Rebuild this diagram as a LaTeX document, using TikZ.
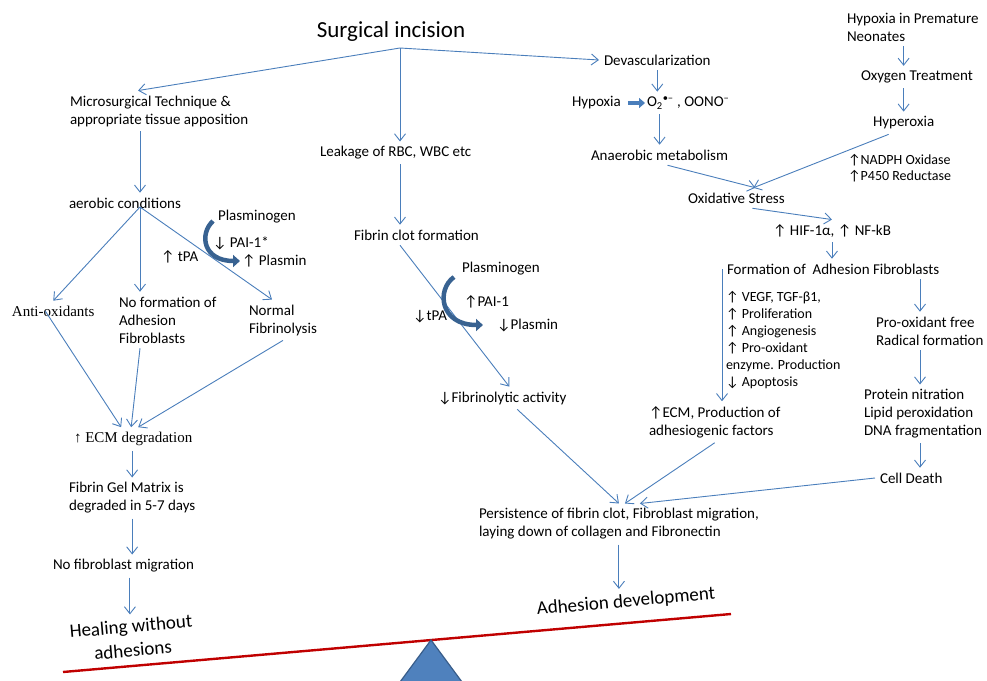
\documentclass[tikz,border=0pt]{standalone}
\usepackage{fontspec}
\setmainfont{Carlito}
\newfontfamily\timesfont{Liberation Serif}
\usetikzlibrary{arrows.meta}
\definecolor{lineblue}{RGB}{74,126,187}
\definecolor{fatblue}{RGB}{56,98,145}
\definecolor{scalered}{RGB}{192,0,0}
\definecolor{triblue}{RGB}{79,129,189}
\definecolor{triedge}{RGB}{56,93,138}
\begin{document}
\begin{tikzpicture}[x=1pt, y=-1pt,
  txt/.style={inner sep=0pt, outer sep=5pt, anchor=west, align=left, font=\fontsize{15}{18}\selectfont},
  sm/.style={txt, font=\fontsize{14}{17}\selectfont},
  ser/.style={txt, font=\timesfont\fontsize{15}{18}\selectfont},
  big/.style={inner sep=0pt, outer sep=5pt, rotate=5, align=center, font=\fontsize{19}{24}\selectfont},
  arr/.style={draw=lineblue, line width=0.9pt, -{Straight Barb[length=7pt,width=11pt]}},
  fat/.style={draw=fatblue, line width=4.5pt, -{Triangle[length=7pt,width=12pt]}},
  hyparr/.style={draw=lineblue, line width=3.2pt, -{Triangle[length=6pt,width=10pt]}}]
\useasboundingbox (0,0) rectangle (987,680);
\node (surg) [inner sep=0pt, font=\fontsize{23}{26}\selectfont] at (391,31) {Surgical incision};
\node[txt] (micro) at (65,111) {Microsurgical Technique \&\\appropriate tissue apposition};
\node[txt] (leak) at (315,153) {Leakage of RBC, WBC etc};
\node[txt] (devas) at (599,60) {Devascularization};
\node[txt] (hyp) at (567,103) {Hypoxia};
\node[txt] (ros) at (642,103) {O\textsubscript{2}\textsuperscript{•–} , OONO\textsuperscript{–}};
\node[txt] (anaer) at (586,155) {Anaerobic metabolism};
\node[txt] (prem) at (842,27) {Hypoxia in Premature\\Neonates};
\node[txt] (oxy) at (856,77) {Oxygen Treatment};
\node[txt] (hyper) at (868,123) {Hyperoxia};
\node[sm, font=\fontsize{14}{16}\selectfont] (nadph) at (843,168) {↑NADPH Oxidase\\↑P450 Reductase};
\node[txt] (oxs) at (683,198) {Oxidative Stress};
\node[txt] (hif) at (768,231) {↑ HIF-1α, ↑ NF-kB};
\node[txt] (fadh) at (722,269) {Formation of~ Adhesion Fibroblasts};
\node[sm] (vegf) at (721,340) {↑ VEGF, TGF-β1,\\↑ Proliferation\\↑ Angiogenesis\\↑ Pro-oxidant\\enzyme. Production\\↓ Apoptosis};
\node[txt] (proox) at (871,331) {Pro-oxidant free\\Radical formation};
\node[txt] (prot) at (859,414) {Protein nitration\\Lipid peroxidation\\DNA fragmentation};
\node[txt] (cell) at (875,478) {Cell Death};
\node[txt] (ecmb) at (644,422) {↑ECM, Production of\\adhesiogenic factors};
\node[txt] (clot) at (349,235) {Fibrin clot formation};
\node[txt] (plgb) at (457,269) {Plasminogen};
\node[txt] (paib) at (459,302) {↑PAI-1};
\node[txt] (tpab) at (408,317) {↓tPA};
\node[txt] (plmb) at (492,325) {↓Plasmin};
\node[txt] (fibact) at (433,398) {↓Fibrinolytic activity};
\node[txt] (pers) at (474,524) {Persistence of fibrin clot, Fibroblast migration,\\laying down of collagen and Fibronectin};
\node[big] (adev) at (626,602) {Adhesion development};
\node[txt] (aer) at (64,203) {aerobic conditions};
\node[ser] (anti) at (7,311) {Anti-oxidants};
\node[txt] (nofo) at (114,320) {No formation of\\Adhesion\\Fibroblasts};
\node[txt] (nfib) at (244,320) {Normal\\Fibrinolysis};
\node[txt] (plga) at (213,217) {Plasminogen};
\node[txt] (paia) at (208,243) {↓ PAI-1*};
\node[txt] (plma) at (237,261) {↑ Plasmin};
\node[txt] (tpaa) at (156,257) {↑ tPA};
\node[ser] (ecma) at (69,439) {↑ ECM degradation};
\node[txt] (gel) at (64,498) {Fibrin Gel Matrix is\\degraded in 5-7 days};
\node[txt] (nofm) at (48,566) {No fibroblast migration};
\node[big] (heal) at (132,638) {Healing without\\adhesions};
\coordinate (hub) at (400,48);
\coordinate (aerhub) at (140,207);
\coordinate (rcol) at (920,0);
\draw[arr] (hub) -- ([xshift=73pt]micro.north west);
\draw[arr] (hub) -- (hub |- leak.north);
\draw[arr] (hub) -- (devas.west);
\draw[arr] (aerhub |- micro.south) -- (aerhub |- aer.north);
\draw[arr] (aerhub) -- (anti.north);
\draw[arr] (aerhub) -- (aerhub |- nofo.north);
\draw[arr] (aerhub) -- ([xshift=28pt]nfib.north west);
\draw[arr] ([xshift=-8pt]anti.center) -- ([xshift=-12pt]ecma.north);
\draw[arr] (aerhub |- nofo.south) -- ([xshift=-2pt]ecma.north);
\draw[arr] (nfib.south) -- ([xshift=5pt]ecma.north);
\draw[arr] (gel.north |- ecma.south) -- (gel.north);
\draw[arr] (gel.south) -- (gel.south |- nofm.north);
\draw[arr] (heal.north |- nofm.south) -- (heal.north);
\draw[fat] ([yshift=-4pt]plga.west) .. controls +(-14,13) and +(-37,0) .. ([xshift=3pt]plma.west);
\draw[arr] (hub |- leak.south) -- (hub |- clot.north);
\draw[arr] (hub |- clot.south) -- ([xshift=7pt]fibact.north);
\draw[fat] ([xshift=-3pt,yshift=-8pt]plgb.west) .. controls +(-18,13) and +(-43,0) .. ([xshift=-9pt]plmb.west);
\draw[arr] ([xshift=15pt]fibact.south) -- (pers.north);
\draw[arr] (pers.south) -- (pers.south |- adev.north);
\draw[arr] (devas.south) -- (devas.south |- hyp.north);
\draw[hyparr] ([xshift=2pt]hyp.east) -- ([xshift=3pt]ros.west);
\draw[arr] (anaer.north |- hyp.south) -- (anaer.north);
\draw[arr] ([xshift=8pt]anaer.south) -- ([xshift=19pt]oxs.north);
\draw[arr] (hyper.north |- prem.south) -- (hyper.north |- oxy.north);
\draw[arr] (hyper.north |- oxy.south) -- (hyper.north);
\draw[arr] ([xshift=-15pt]hyper.south) -- ([xshift=17pt]oxs.north);
\draw[arr] ([xshift=16pt]oxs.south) -- (hif.north);
\draw[arr] (hif.south) -- (hif.south |- fadh.north);
\draw[arr] (fadh.west) -- (fadh.west |- ecmb.north);
\draw[arr] (rcol |- fadh.south) -- (rcol |- proox.north);
\draw[arr] (rcol |- proox.south) -- (rcol |- prot.north);
\draw[arr] (rcol |- prot.south) -- (rcol |- cell.north);
\draw[arr] (cell.west) -- ([xshift=21pt]pers.north);
\draw[arr] (ecmb.south) -- ([xshift=6pt]pers.north);
\draw[scalered, line width=2.4pt] (63,672) -- (731,614);
\filldraw[fill=triblue, draw=triedge, line width=1.2pt] (431,640) -- (462,682) -- (400,682) -- cycle;
\end{tikzpicture}
\end{document}
